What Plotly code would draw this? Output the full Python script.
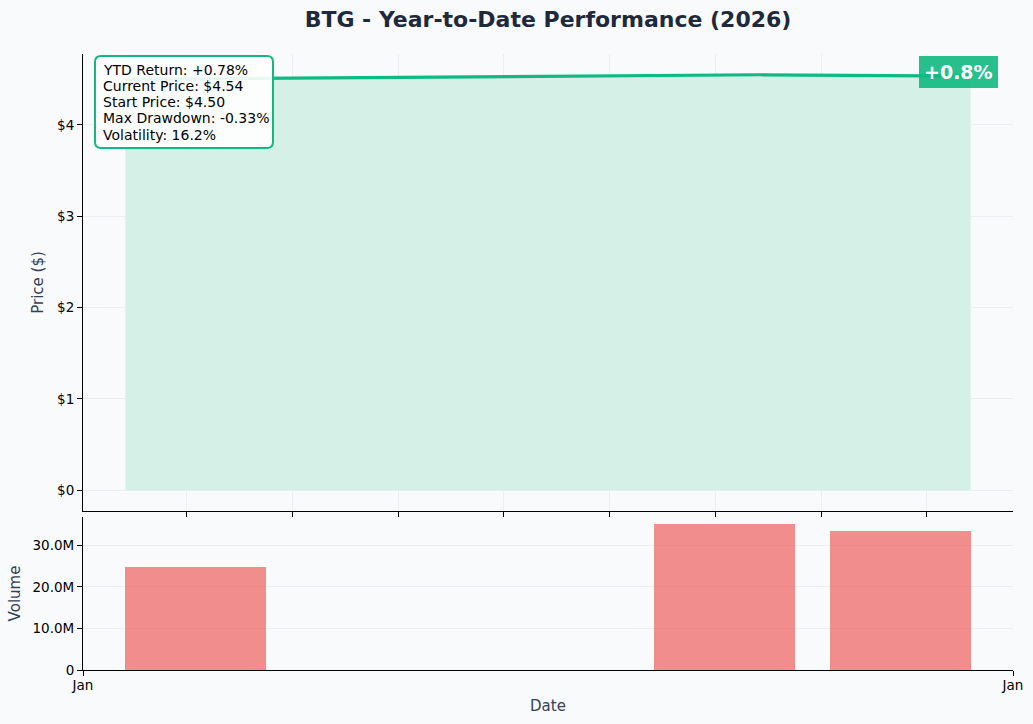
import pandas as pd
import plotly.graph_objects as go
from plotly.subplots import make_subplots

# ---- data ----
dates = ["2026-01-02 05:00", "2026-01-05 05:00", "2026-01-06 05:00"]
prices = [4.50, 4.55, 4.535]
volumes = [24.9e6, 35.1e6, 33.6e6]
price_ticks = [0, 1, 2, 3, 4]
price_tick_labels = ["$0", "$1", "$2", "$3", "$4"]
volume_ticks = [0, 10e6, 20e6, 30e6]
volume_tick_labels = ["0", "10.0M", "20.0M", "30.0M"]
month_labels = ["Jan", "Jan"]
stats_lines = [
    "YTD Return: +0.78%",
    "Current Price: $4.54",
    "Start Price: $4.50",
    "Max Drawdown: -0.33%",
    "Volatility: 16.2%",
]
badge_text = "+0.8%"
title_text = "BTG - Year-to-Date Performance (2026)"

# ---- derived ----
d = pd.to_datetime(dates)
day = pd.Timedelta(days=1)
span = d.max() - d.min()
top_range = [d.min() - 0.05 * span, d.max() + 0.05 * span]
bar_w = 0.8 * day
lo, hi = d.min() - bar_w / 2, d.max() + bar_w / 2
ext = hi - lo
bot_range = [lo - 0.05 * ext, hi + 0.05 * ext]
pmax = max(prices)
vmax = max(volumes)

GREEN = "#10b981"
FILL = "#d5f0e7"
RED = "rgba(239,68,68,0.6)"
BG = "#f8fafc"
GRID = "#eceef2"
FONT = "DejaVu Sans"

# layout geometry (pixels)
W, H = 1033, 724
L, R, T, B = 83, 20, 54, 54
PW, PH = W - L - R, H - T - B


def px_x(px):
    return (px - L) / PW


def px_y(py):
    return (H - B - py) / PH


fig = make_subplots(rows=2, cols=1, shared_xaxes=False, vertical_spacing=0.0)

fig.add_trace(go.Scatter(
    x=d, y=prices, mode="lines",
    line=dict(color=GREEN, width=3.2),
    fill="tozeroy", fillcolor=FILL,
    showlegend=False, hoverinfo="skip"), row=1, col=1)

fig.add_trace(go.Bar(
    x=d, y=volumes, width=bar_w.total_seconds() * 1000,
    marker=dict(color=RED, line=dict(width=0)),
    showlegend=False, hoverinfo="skip"), row=2, col=1)

axis_common = dict(showline=True, linecolor="black", linewidth=1.1,
                   ticks="outside", ticklen=5, tickwidth=1.1, tickcolor="black",
                   showgrid=True, gridcolor=GRID, gridwidth=1, zeroline=False,
                   automargin=False,
                   tickfont=dict(family=FONT, size=13.5, color="black"))

fig.update_layout(
    width=W, height=H,
    paper_bgcolor=BG, plot_bgcolor=BG,
    margin=dict(l=L, r=R, t=T, b=B, autoexpand=False),
    font=dict(family=FONT, color="black"),
    bargap=0,
    title=dict(text="<b>" + title_text + "</b>", x=548 / W, xanchor="center",
               y=1 - 19 / H, yanchor="middle",
               font=dict(family=FONT, size=22, color="#1e293b")),
    xaxis=dict(axis_common, type="date", range=top_range, domain=[0, 1],
               showticklabels=False, dtick=12 * 3600 * 1000, tick0="2026-01-01"),
    yaxis=dict(axis_common, domain=[px_y(511), 1],
               range=[-0.05 * pmax, 1.05 * pmax],
               tickmode="array", tickvals=price_ticks, ticktext=price_tick_labels,
               title=dict(text="Price ($)", standoff=9,
                          font=dict(family=FONT, size=15, color="#334155"))),
    xaxis2=dict(axis_common, type="date", range=bot_range, domain=[0, 1],
                tickmode="array", tickvals=bot_range, ticktext=month_labels,
                ticklabelstandoff=-2,
                title=dict(text="Date", standoff=8,
                           font=dict(family=FONT, size=15, color="#334155"))),
    yaxis2=dict(axis_common, domain=[0, px_y(517)],
                range=[0, 1.05 * vmax],
                tickmode="array", tickvals=volume_ticks, ticktext=volume_tick_labels,
                title=dict(text="Volume", standoff=8,
                           font=dict(family=FONT, size=15, color="#334155"))),
)

# rounded stats box
x0, x1, y0, y1 = px_x(95), px_x(273), px_y(148), px_y(56)
rx, ry = 6 / PW, 6 / PH
path = (f"M {x0+rx},{y0} L {x1-rx},{y0} Q {x1},{y0} {x1},{y0+ry} "
        f"L {x1},{y1-ry} Q {x1},{y1} {x1-rx},{y1} "
        f"L {x0+rx},{y1} Q {x0},{y1} {x0},{y1-ry} "
        f"L {x0},{y0+ry} Q {x0},{y0} {x0+rx},{y0} Z")
fig.add_shape(type="path", path=path, xref="paper", yref="paper",
              fillcolor="rgba(255,255,255,0.9)", line=dict(color=GREEN, width=2),
              layer="above")

for i, line in enumerate(stats_lines):
    fig.add_annotation(
        xref="paper", yref="paper", x=px_x(101), y=px_y(69.5 + i * 16.3),
        xanchor="left", yanchor="middle", align="left", showarrow=False,
        text=line, font=dict(family=FONT, size=14, color="black"))

fig.add_annotation(
    xref="x", yref="y", x=d[-1], y=prices[-1],
    xanchor="center", yanchor="middle", xshift=-12, yshift=4, showarrow=False,
    text="<b>" + badge_text + "</b>",
    font=dict(family=FONT, size=19, color="white"),
    bgcolor="rgba(16,185,129,0.9)", borderpad=5, borderwidth=0)

fig.write_html("out.html", config={"displayModeBar": False},
               post_script="document.body.style.margin='0';document.body.style.overflow='hidden';")
